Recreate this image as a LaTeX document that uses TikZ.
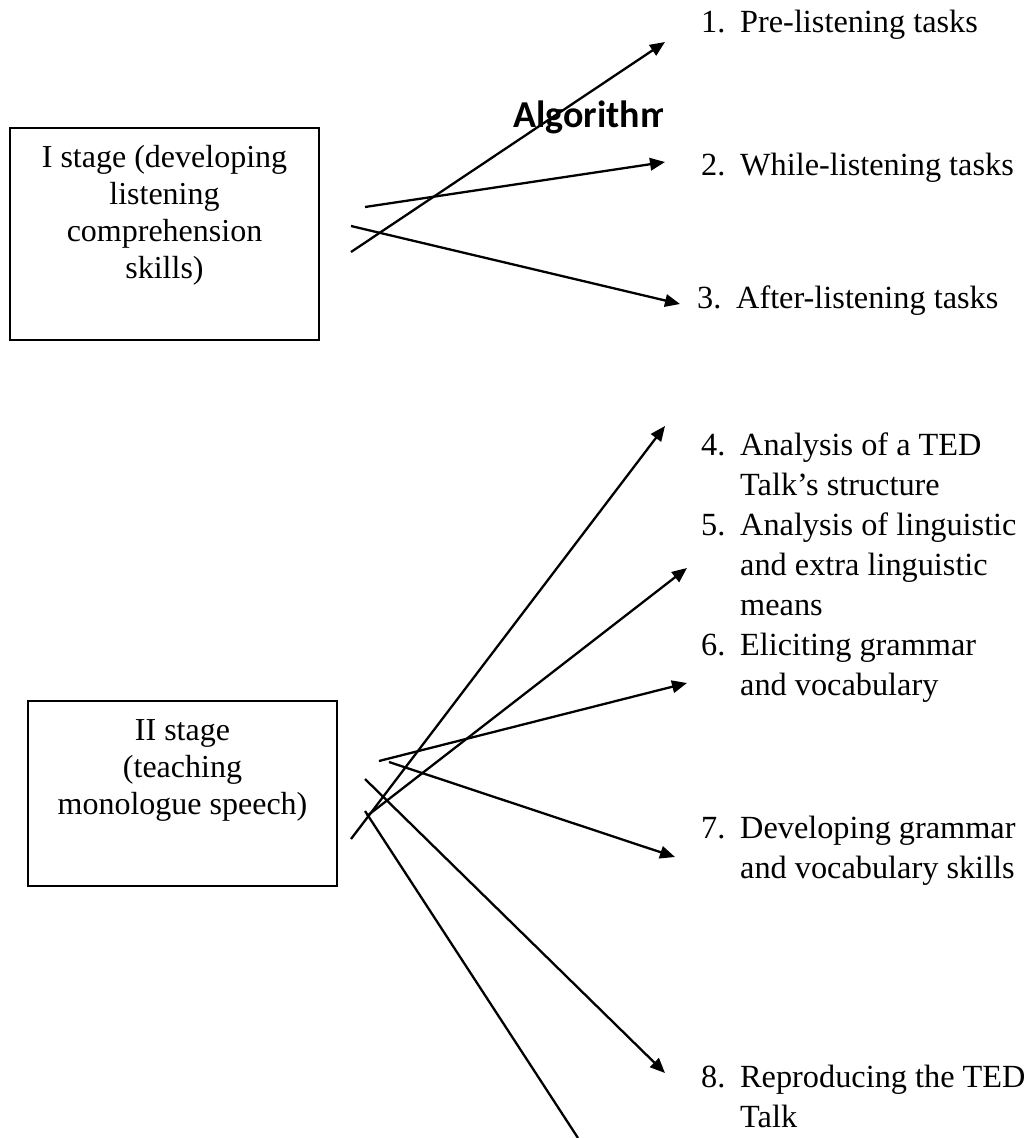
\documentclass[tikz,border=0pt]{standalone}
\usepackage{fontspec}
\setmainfont{Liberation Serif}
\newfontfamily\algfont{Carlito}
\usetikzlibrary{arrows.meta}
\begin{document}
\begin{tikzpicture}[x=1pt,y=-1pt,
  stagebox/.style={draw,line width=2.3pt,inner sep=0pt},
  stagetext/.style={anchor=base,inner sep=0pt,font=\fontsize{32}{37}\selectfont},
  itemtext/.style={anchor=base west,inner sep=0pt,font=\fontsize{32.3}{40}\selectfont},
  conn/.style={line width=2.3pt},
  arr/.style={conn,-{Triangle[length=15pt,width=12.5pt]}}]
\useasboundingbox (0,0) rectangle (1029,1138);
% stage boxes
\node[stagebox,minimum width=309pt,minimum height=212pt] (s1) at (164.5,234) {};
\node[stagetext] (s1t) at (164.5,167) {\begin{tabular}[t]{@{}c@{}}I stage (developing\\listening\\comprehension\\skills)\end{tabular}};
\node[stagebox,minimum width=309pt,minimum height=185pt] (s2) at (182.5,793.5) {};
\node[stagetext] (s2t) at (182.5,740) {\begin{tabular}[t]{@{}c@{}}II stage\\(teaching\\monologue speech)\end{tabular}};
% title (clipped)
\begin{scope}
\clip (0,0) rectangle (662,200);
\node[anchor=base west,inner sep=0pt,font=\algfont\bfseries\fontsize{38}{44}\selectfont] (title) at (513,127) {Algorithm};
\end{scope}
% items
\node[itemtext] (i1) at (701,32) {\begin{tabular}[t]{@{}p{39pt}@{}l@{}}1.&Pre-listening tasks\end{tabular}};
\node[itemtext] (i2) at (701,175) {\begin{tabular}[t]{@{}p{39pt}@{}l@{}}2.&While-listening tasks\end{tabular}};
\node[itemtext] (i3) at (697,308) {\begin{tabular}[t]{@{}p{39pt}@{}l@{}}3.&After-listening tasks\end{tabular}};
\node[itemtext] (i4) at (701,455) {\begin{tabular}[t]{@{}p{39pt}@{}l@{}}4.&Analysis of a TED\\&Talk’s structure\end{tabular}};
\node[itemtext] (i5) at (701,535) {\begin{tabular}[t]{@{}p{39pt}@{}l@{}}5.&Analysis of linguistic\\&and extra linguistic\\&means\end{tabular}};
\node[itemtext] (i6) at (701,655) {\begin{tabular}[t]{@{}p{39pt}@{}l@{}}6.&Eliciting grammar\\&and vocabulary\end{tabular}};
\node[itemtext] (i7) at (701,838) {\begin{tabular}[t]{@{}p{39pt}@{}l@{}}7.&Developing grammar\\&and vocabulary skills\end{tabular}};
\node[itemtext] (i8) at (701,1087) {\begin{tabular}[t]{@{}p{39pt}@{}l@{}}8.&Reproducing the TED\\&Talk\end{tabular}};
% connector ends
\coordinate (c1s) at (351,252); \coordinate (c1e) at (665,42);
\coordinate (c2s) at (365,207); \coordinate (c2e) at (665,162);
\coordinate (c3s) at (351,226); \coordinate (c3e) at (680,304);
\coordinate (c4s) at (351,839); \coordinate (c4e) at (665,426);
\coordinate (c5s) at (367,816); \coordinate (c5e) at (687,568);
\coordinate (c6s) at (379,761); \coordinate (c6e) at (687,683);
\coordinate (c7s) at (389,762); \coordinate (c7e) at (675,857);
\coordinate (c8s) at (365,779); \coordinate (c8e) at (665,1073);
\coordinate (c9s) at (365,811); \coordinate (c9e) at (578,1138);
% connectors
\draw[arr] (c1s) -- (c1e);
\draw[arr] (c2s) -- (c2e);
\draw[arr] (c3s) -- (c3e);
\draw[arr] (c4s) -- (c4e);
\draw[arr] (c5s) -- (c5e);
\draw[arr] (c6s) -- (c6e);
\draw[arr] (c7s) -- (c7e);
\draw[arr] (c8s) -- (c8e);
\draw[conn] (c9s) -- (c9e);
\end{tikzpicture}
\end{document}
